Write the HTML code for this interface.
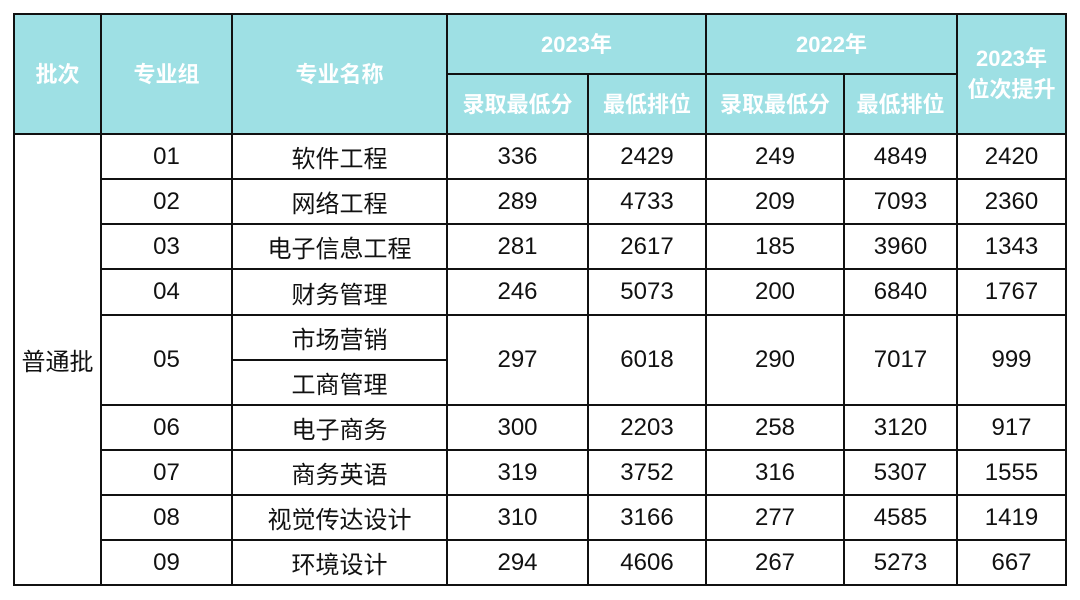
<!DOCTYPE html>
<html><head><meta charset="utf-8"><style>
body{margin:0;width:1080px;height:600px;background:#fff;position:relative;overflow:hidden;font-family:"Liberation Sans","Noto Sans CJK SC",sans-serif;}
.c{position:absolute;box-sizing:border-box;border-right:2px solid #111;border-bottom:2px solid #111;display:flex;align-items:center;justify-content:center;text-align:center;font-size:24px;color:#111;}
.h{background:#9ee0e4;color:#fff;font-weight:bold;font-size:22px;line-height:31px;}
.l{position:absolute;background:#111;}
</style></head><body>
<div class="l" style="left:13px;top:13px;width:2px;height:573px"></div>
<div class="l" style="left:13px;top:13px;width:1054px;height:2px"></div>

<div class="c h" style="left:15px;top:15px;width:87px;height:120px">批次</div>
<div class="c h" style="left:102px;top:15px;width:131px;height:120px">专业组</div>
<div class="c h" style="left:233px;top:15px;width:215px;height:120px">专业名称</div>
<div class="c h" style="left:448px;top:15px;width:259px;height:60px">2023年</div>
<div class="c h" style="left:707px;top:15px;width:251px;height:60px">2022年</div>
<div class="c h" style="left:958px;top:15px;width:109px;height:120px">2023年<br>位次提升</div>
<div class="c h" style="left:448px;top:75px;width:141px;height:60px">录取最低分</div>
<div class="c h" style="left:589px;top:75px;width:118px;height:60px">最低排位</div>
<div class="c h" style="left:707px;top:75px;width:138px;height:60px">录取最低分</div>
<div class="c h" style="left:845px;top:75px;width:113px;height:60px">最低排位</div>

<div class="c" style="left:15px;top:135px;width:87px;height:451px">普通批</div>

<div class="c" style="left:102px;top:135px;width:131px;height:45px">01</div>
<div class="c" style="left:233px;top:135px;width:215px;height:45px">软件工程</div>
<div class="c" style="left:448px;top:135px;width:141px;height:45px">336</div>
<div class="c" style="left:589px;top:135px;width:118px;height:45px">2429</div>
<div class="c" style="left:707px;top:135px;width:138px;height:45px">249</div>
<div class="c" style="left:845px;top:135px;width:113px;height:45px">4849</div>
<div class="c" style="left:958px;top:135px;width:109px;height:45px">2420</div>

<div class="c" style="left:102px;top:180px;width:131px;height:45px">02</div>
<div class="c" style="left:233px;top:180px;width:215px;height:45px">网络工程</div>
<div class="c" style="left:448px;top:180px;width:141px;height:45px">289</div>
<div class="c" style="left:589px;top:180px;width:118px;height:45px">4733</div>
<div class="c" style="left:707px;top:180px;width:138px;height:45px">209</div>
<div class="c" style="left:845px;top:180px;width:113px;height:45px">7093</div>
<div class="c" style="left:958px;top:180px;width:109px;height:45px">2360</div>

<div class="c" style="left:102px;top:225px;width:131px;height:45px">03</div>
<div class="c" style="left:233px;top:225px;width:215px;height:45px">电子信息工程</div>
<div class="c" style="left:448px;top:225px;width:141px;height:45px">281</div>
<div class="c" style="left:589px;top:225px;width:118px;height:45px">2617</div>
<div class="c" style="left:707px;top:225px;width:138px;height:45px">185</div>
<div class="c" style="left:845px;top:225px;width:113px;height:45px">3960</div>
<div class="c" style="left:958px;top:225px;width:109px;height:45px">1343</div>

<div class="c" style="left:102px;top:270px;width:131px;height:46px">04</div>
<div class="c" style="left:233px;top:270px;width:215px;height:46px">财务管理</div>
<div class="c" style="left:448px;top:270px;width:141px;height:46px">246</div>
<div class="c" style="left:589px;top:270px;width:118px;height:46px">5073</div>
<div class="c" style="left:707px;top:270px;width:138px;height:46px">200</div>
<div class="c" style="left:845px;top:270px;width:113px;height:46px">6840</div>
<div class="c" style="left:958px;top:270px;width:109px;height:46px">1767</div>

<div class="c" style="left:102px;top:316px;width:131px;height:90px">05</div>
<div class="c" style="left:233px;top:316px;width:215px;height:45px">市场营销</div>
<div class="c" style="left:233px;top:361px;width:215px;height:45px">工商管理</div>
<div class="c" style="left:448px;top:316px;width:141px;height:90px">297</div>
<div class="c" style="left:589px;top:316px;width:118px;height:90px">6018</div>
<div class="c" style="left:707px;top:316px;width:138px;height:90px">290</div>
<div class="c" style="left:845px;top:316px;width:113px;height:90px">7017</div>
<div class="c" style="left:958px;top:316px;width:109px;height:90px">999</div>

<div class="c" style="left:102px;top:406px;width:131px;height:45px">06</div>
<div class="c" style="left:233px;top:406px;width:215px;height:45px">电子商务</div>
<div class="c" style="left:448px;top:406px;width:141px;height:45px">300</div>
<div class="c" style="left:589px;top:406px;width:118px;height:45px">2203</div>
<div class="c" style="left:707px;top:406px;width:138px;height:45px">258</div>
<div class="c" style="left:845px;top:406px;width:113px;height:45px">3120</div>
<div class="c" style="left:958px;top:406px;width:109px;height:45px">917</div>

<div class="c" style="left:102px;top:451px;width:131px;height:45px">07</div>
<div class="c" style="left:233px;top:451px;width:215px;height:45px">商务英语</div>
<div class="c" style="left:448px;top:451px;width:141px;height:45px">319</div>
<div class="c" style="left:589px;top:451px;width:118px;height:45px">3752</div>
<div class="c" style="left:707px;top:451px;width:138px;height:45px">316</div>
<div class="c" style="left:845px;top:451px;width:113px;height:45px">5307</div>
<div class="c" style="left:958px;top:451px;width:109px;height:45px">1555</div>

<div class="c" style="left:102px;top:496px;width:131px;height:45px">08</div>
<div class="c" style="left:233px;top:496px;width:215px;height:45px">视觉传达设计</div>
<div class="c" style="left:448px;top:496px;width:141px;height:45px">310</div>
<div class="c" style="left:589px;top:496px;width:118px;height:45px">3166</div>
<div class="c" style="left:707px;top:496px;width:138px;height:45px">277</div>
<div class="c" style="left:845px;top:496px;width:113px;height:45px">4585</div>
<div class="c" style="left:958px;top:496px;width:109px;height:45px">1419</div>

<div class="c" style="left:102px;top:541px;width:131px;height:45px">09</div>
<div class="c" style="left:233px;top:541px;width:215px;height:45px">环境设计</div>
<div class="c" style="left:448px;top:541px;width:141px;height:45px">294</div>
<div class="c" style="left:589px;top:541px;width:118px;height:45px">4606</div>
<div class="c" style="left:707px;top:541px;width:138px;height:45px">267</div>
<div class="c" style="left:845px;top:541px;width:113px;height:45px">5273</div>
<div class="c" style="left:958px;top:541px;width:109px;height:45px">667</div>
</body></html>
